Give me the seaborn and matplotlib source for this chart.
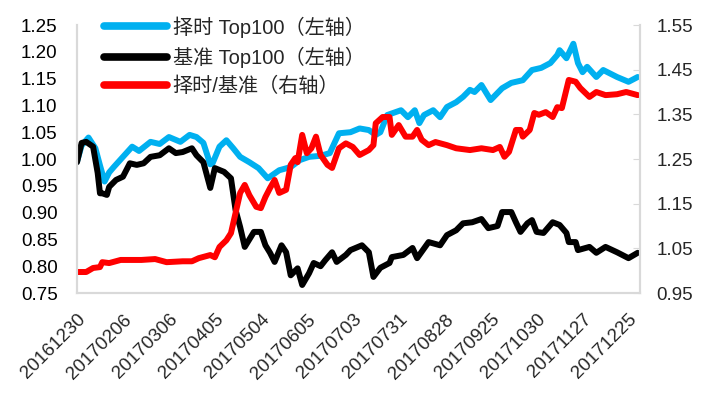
import numpy as np
import pandas as pd
import seaborn as sns
import matplotlib
matplotlib.use('Agg')
import matplotlib.pyplot as plt

# 交易日序号（0 = 20161230）
timing_x = [0, 2, 5, 8, 10, 12, 14, 16, 20, 24, 27, 32, 36, 40, 45, 49, 52, 55, 58, 59,
            62, 65, 68, 71, 75, 79, 83, 85, 88, 93, 97, 101, 106, 110, 114, 119, 123, 127,
            130, 132, 135, 141, 144, 147, 149, 151, 155, 158, 161, 165, 168, 171, 173, 176,
            180, 185, 189, 194, 198, 202, 206, 209, 210, 213, 216, 218, 220, 222, 226, 229,
            235, 240, 244]
timing_y = [0.995, 1.025, 1.040, 1.020, 0.988, 0.958, 0.975, 0.985, 1.004, 1.023, 1.015,
            1.032, 1.028, 1.041, 1.032, 1.045, 1.041, 1.030, 0.990, 0.992, 1.023, 1.035,
            1.020, 1.004, 0.994, 0.983, 0.964, 0.970, 0.979, 0.985, 0.998, 1.004, 1.006,
            1.011, 1.048, 1.050, 1.057, 1.054, 1.045, 1.050, 1.082, 1.091, 1.078, 1.091,
            1.067, 1.082, 1.091, 1.078, 1.097, 1.106, 1.116, 1.129, 1.125, 1.138, 1.110,
            1.132, 1.142, 1.147, 1.166, 1.170, 1.179, 1.194, 1.203, 1.188, 1.215, 1.179,
            1.162, 1.172, 1.153, 1.166, 1.153, 1.144, 1.153]

bench_x = [0, 2, 4, 7, 9, 10, 11, 13, 14, 17, 20, 23, 26, 29, 32, 36, 40, 43, 46, 50, 52,
           55, 58, 60, 64, 67, 69, 71, 73, 77, 80, 82, 84, 86, 89, 91, 93, 96, 98, 101, 103,
           106, 108, 111, 113, 117, 119, 124, 127, 129, 132, 136, 137, 142, 146, 148, 153,
           158, 161, 165, 168, 172, 176, 179, 183, 185, 189, 191, 193, 196, 198, 200, 203,
           207, 210, 213, 214, 217, 218, 223, 226, 230, 235, 240, 244]
bench_y = [0.994, 1.030, 1.032, 1.023, 0.974, 0.936, 0.936, 0.933, 0.948, 0.961, 0.967,
           0.992, 0.989, 0.992, 1.004, 1.007, 1.020, 1.011, 1.013, 1.020, 1.007, 0.994,
           0.946, 0.983, 0.976, 0.964, 0.905, 0.873, 0.836, 0.864, 0.864, 0.839, 0.825,
           0.808, 0.839, 0.826, 0.783, 0.796, 0.765, 0.787, 0.806, 0.800, 0.811, 0.826,
           0.808, 0.821, 0.830, 0.839, 0.826, 0.780, 0.797, 0.806, 0.817, 0.821, 0.834,
           0.815, 0.845, 0.839, 0.858, 0.867, 0.880, 0.882, 0.888, 0.871, 0.875, 0.901,
           0.901, 0.882, 0.864, 0.880, 0.886, 0.864, 0.862, 0.882, 0.877, 0.862, 0.845,
           0.845, 0.830, 0.836, 0.825, 0.836, 0.826, 0.815, 0.825]

ratio_x = [0, 4, 7, 10, 11, 14, 19, 28, 34, 39, 46, 50, 53, 58, 60, 62, 65, 67, 69, 71, 73,
           75, 78, 80, 82, 84, 86, 88, 91, 93, 95, 96, 98, 100, 102, 104, 106, 109, 111,
           114, 117, 120, 123, 127, 129, 130, 133, 136, 137, 140, 143, 146, 148, 150, 153,
           156, 161, 165, 171, 176, 181, 184, 186, 188, 191, 193, 194, 197, 199, 201, 204,
           207, 209, 211, 214, 217, 219, 223, 226, 230, 235, 239, 244]
ratio_y = [0.997, 0.997, 1.006, 1.008, 1.019, 1.017, 1.024, 1.024, 1.026, 1.019, 1.021,
           1.021, 1.028, 1.035, 1.030, 1.053, 1.068, 1.084, 1.129, 1.174, 1.192, 1.169,
           1.143, 1.140, 1.165, 1.185, 1.203, 1.174, 1.181, 1.237, 1.252, 1.243, 1.304,
           1.263, 1.274, 1.300, 1.259, 1.237, 1.230, 1.274, 1.285, 1.277, 1.259, 1.270,
           1.281, 1.330, 1.344, 1.344, 1.304, 1.326, 1.300, 1.300, 1.315, 1.293, 1.281,
           1.288, 1.281, 1.274, 1.270, 1.274, 1.270, 1.277, 1.255, 1.266, 1.315, 1.315,
           1.300, 1.315, 1.353, 1.349, 1.355, 1.344, 1.366, 1.364, 1.427, 1.423, 1.409,
           1.389, 1.400, 1.393, 1.395, 1.400, 1.393]

tick_pos = [0, 20, 40, 60, 80, 100, 120, 140, 160, 180, 200, 220, 240]
tick_labels = ['20161230', '20170206', '20170306', '20170405', '20170504', '20170605',
               '20170703', '20170731', '20170828', '20170925', '20171030', '20171127',
               '20171225']

sns.set_style('white')
plt.rcParams['font.family'] = ['Liberation Sans', 'Noto Sans CJK SC', 'DejaVu Sans']
plt.rcParams['axes.unicode_minus'] = False

grey = '#D9D9D9'
fig = plt.figure(figsize=(7.11, 3.96), dpi=100)
ax = fig.add_axes([77/711, 1-293/396, (640-77)/711, (293-25)/396])
ax2 = ax.twinx()

lw = 4.3
sns.lineplot(x=timing_x, y=timing_y, ax=ax, color='#00B0F0', lw=lw,
             solid_capstyle='round', solid_joinstyle='round', label='择时 Top100（左轴）')
sns.lineplot(x=bench_x, y=bench_y, ax=ax, color='black', lw=lw,
             solid_capstyle='round', solid_joinstyle='round', label='基准 Top100（左轴）')
sns.lineplot(x=ratio_x, y=ratio_y, ax=ax2, color='#FF0000', lw=lw,
             solid_capstyle='round', solid_joinstyle='round', label='择时/基准（右轴）')

ax.set_xlim(0, 245)
ax.set_ylim(0.75, 1.25)
ax.set_yticks(np.arange(0.75, 1.2501, 0.05))
ax.set_yticklabels(['%.2f' % v for v in np.arange(0.75, 1.2501, 0.05)])
ax2.set_ylim(0.95, 1.55)
ax2.set_yticks(np.arange(0.95, 1.5501, 0.1))
ax2.set_yticklabels(['%.2f' % v for v in np.arange(0.95, 1.5501, 0.1)])
ax.set_xticks(tick_pos)
ax.set_xticklabels(tick_labels, rotation=45, ha='right', rotation_mode='anchor')
ax.set_xlabel('')
ax.set_ylabel('')

fs = 13.5
ax.tick_params(axis='y', length=0, pad=14, labelsize=fs, colors='black')
ax.tick_params(axis='x', length=0, pad=13, labelsize=fs)
ax2.tick_params(axis='y', length=5, direction='in', color=grey, pad=12, labelsize=fs)

for a in (ax, ax2):
    a.spines['top'].set_visible(False)
    for s in ['left', 'right', 'bottom']:
        a.spines[s].set_color(grey)
        a.spines[s].set_linewidth(1.5)

h1, l1 = ax.get_legend_handles_labels()
h2, l2 = ax2.get_legend_handles_labels()
ax.get_legend().remove()
ax2.get_legend().remove()
leg = fig.legend(h1 + h2, l1 + l2, loc='upper left', bbox_to_anchor=(92/711, 1.0 - 4/396),
                 frameon=False, fontsize=14.5, handlelength=3.1, handletextpad=0.3,
                 labelspacing=0.45, borderaxespad=0.2)
for line in leg.get_lines():
    line.set_linewidth(5.5)

fig.savefig('out.png', dpi=100)
